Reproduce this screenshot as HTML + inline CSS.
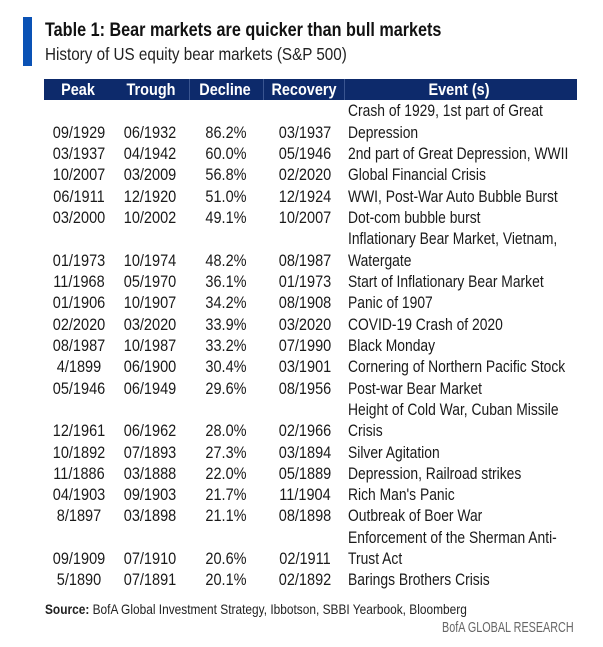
<!DOCTYPE html>
<html><head><meta charset="utf-8"><style>
body{margin:0;width:603px;height:647px;background:#fff;position:relative;font-family:"Liberation Sans",sans-serif;color:#1a1a1a;overflow:hidden}
.a{position:absolute;white-space:nowrap}
.l{transform-origin:0 50%}
.r{font-size:16.5px;line-height:21.3px}
.rl{transform:scaleX(.84);transform-origin:0 50%}
.rc{transform:translateX(-50%) scaleX(.88)}
.hc{transform:translateX(-50%) scaleX(.85);font-size:17px;font-weight:bold;color:#fff;top:79px;line-height:21px}
</style></head><body>
<div class="a" style="left:23px;top:17px;width:9px;height:49px;background:#0a52b5"></div>
<div class="a l" style="left:45px;top:18px;font-size:19.5px;line-height:24px;font-weight:bold;color:#111;transform:scaleX(.83)">Table 1: Bear markets are quicker than bull markets</div>
<div class="a l" style="left:45px;top:43px;font-size:17.5px;line-height:22px;color:#222;transform:scaleX(.87)">History of US equity bear markets (S&amp;P 500)</div>
<div class="a" style="left:44px;top:79px;width:533px;height:21px;background:#0d2a6b"></div>
<div class="a" style="left:189px;top:79px;width:1px;height:21px;background:#3a5590"></div>
<div class="a" style="left:263px;top:79px;width:1px;height:21px;background:#3a5590"></div>
<div class="a" style="left:344px;top:79px;width:1px;height:21px;background:#3a5590"></div>
<div class="a hc" style="left:78px">Peak</div>
<div class="a hc" style="left:151px">Trough</div>
<div class="a hc" style="left:225px">Decline</div>
<div class="a hc" style="left:304px">Recovery</div>
<div class="a hc" style="left:459px">Event (s)</div>
<div id="rows"></div>
<div class="a l" style="left:45px;top:600px;font-size:14px;line-height:18px;color:#222;transform:scaleX(.85)"><b>Source:</b> BofA Global Investment Strategy, Ibbotson, SBBI Yearbook, Bloomberg</div>
<div class="a l" style="left:442px;top:619px;font-size:15px;line-height:18px;color:#666;transform:scaleX(.72)">BofA GLOBAL RESEARCH</div>
<script>
var d=[
["09/1929","06/1932","86.2%","03/1937","Crash of 1929, 1st part of Great","Depression"],
["03/1937","04/1942","60.0%","05/1946","2nd part of Great Depression, WWII"],
["10/2007","03/2009","56.8%","02/2020","Global Financial Crisis"],
["06/1911","12/1920","51.0%","12/1924","WWI, Post-War Auto Bubble Burst"],
["03/2000","10/2002","49.1%","10/2007","Dot-com bubble burst"],
["01/1973","10/1974","48.2%","08/1987","Inflationary Bear Market, Vietnam,","Watergate"],
["11/1968","05/1970","36.1%","01/1973","Start of Inflationary Bear Market"],
["01/1906","10/1907","34.2%","08/1908","Panic of 1907"],
["02/2020","03/2020","33.9%","03/2020","COVID-19 Crash of 2020"],
["08/1987","10/1987","33.2%","07/1990","Black Monday"],
["4/1899","06/1900","30.4%","03/1901","Cornering of Northern Pacific Stock"],
["05/1946","06/1949","29.6%","08/1956","Post-war Bear Market"],
["12/1961","06/1962","28.0%","02/1966","Height of Cold War, Cuban Missile","Crisis"],
["10/1892","07/1893","27.3%","03/1894","Silver Agitation"],
["11/1886","03/1888","22.0%","05/1889","Depression, Railroad strikes"],
["04/1903","09/1903","21.7%","11/1904","Rich Man's Panic"],
["8/1897","03/1898","21.1%","08/1898","Outbreak of Boer War"],
["09/1909","07/1910","20.6%","02/1911","Enforcement of the Sherman Anti-","Trust Act"],
["5/1890","07/1891","20.1%","02/1892","Barings Brothers Crisis"]];
var h="",line=0,top0=101.4,lh=21.32;
d.forEach(function(r){
 var two=r.length>5, ly=line+(two?1:0);
 var y=top0+ly*lh;
 [[79,r[0]],[150,r[1]],[226,r[2]],[305,r[3]]].forEach(function(c){h+='<div class="a rc r" style="left:'+c[0]+'px;top:'+y+'px">'+c[1]+'</div>';});
 if(two){h+='<div class="a rl r" style="left:348px;top:'+(top0+line*lh)+'px">'+r[4]+'</div><div class="a rl r" style="left:348px;top:'+y+'px">'+r[5]+'</div>';}
 else h+='<div class="a rl r" style="left:348px;top:'+y+'px">'+r[4]+'</div>';
 line=ly+1;});
document.getElementById("rows").innerHTML=h;
</script>
</body></html>
